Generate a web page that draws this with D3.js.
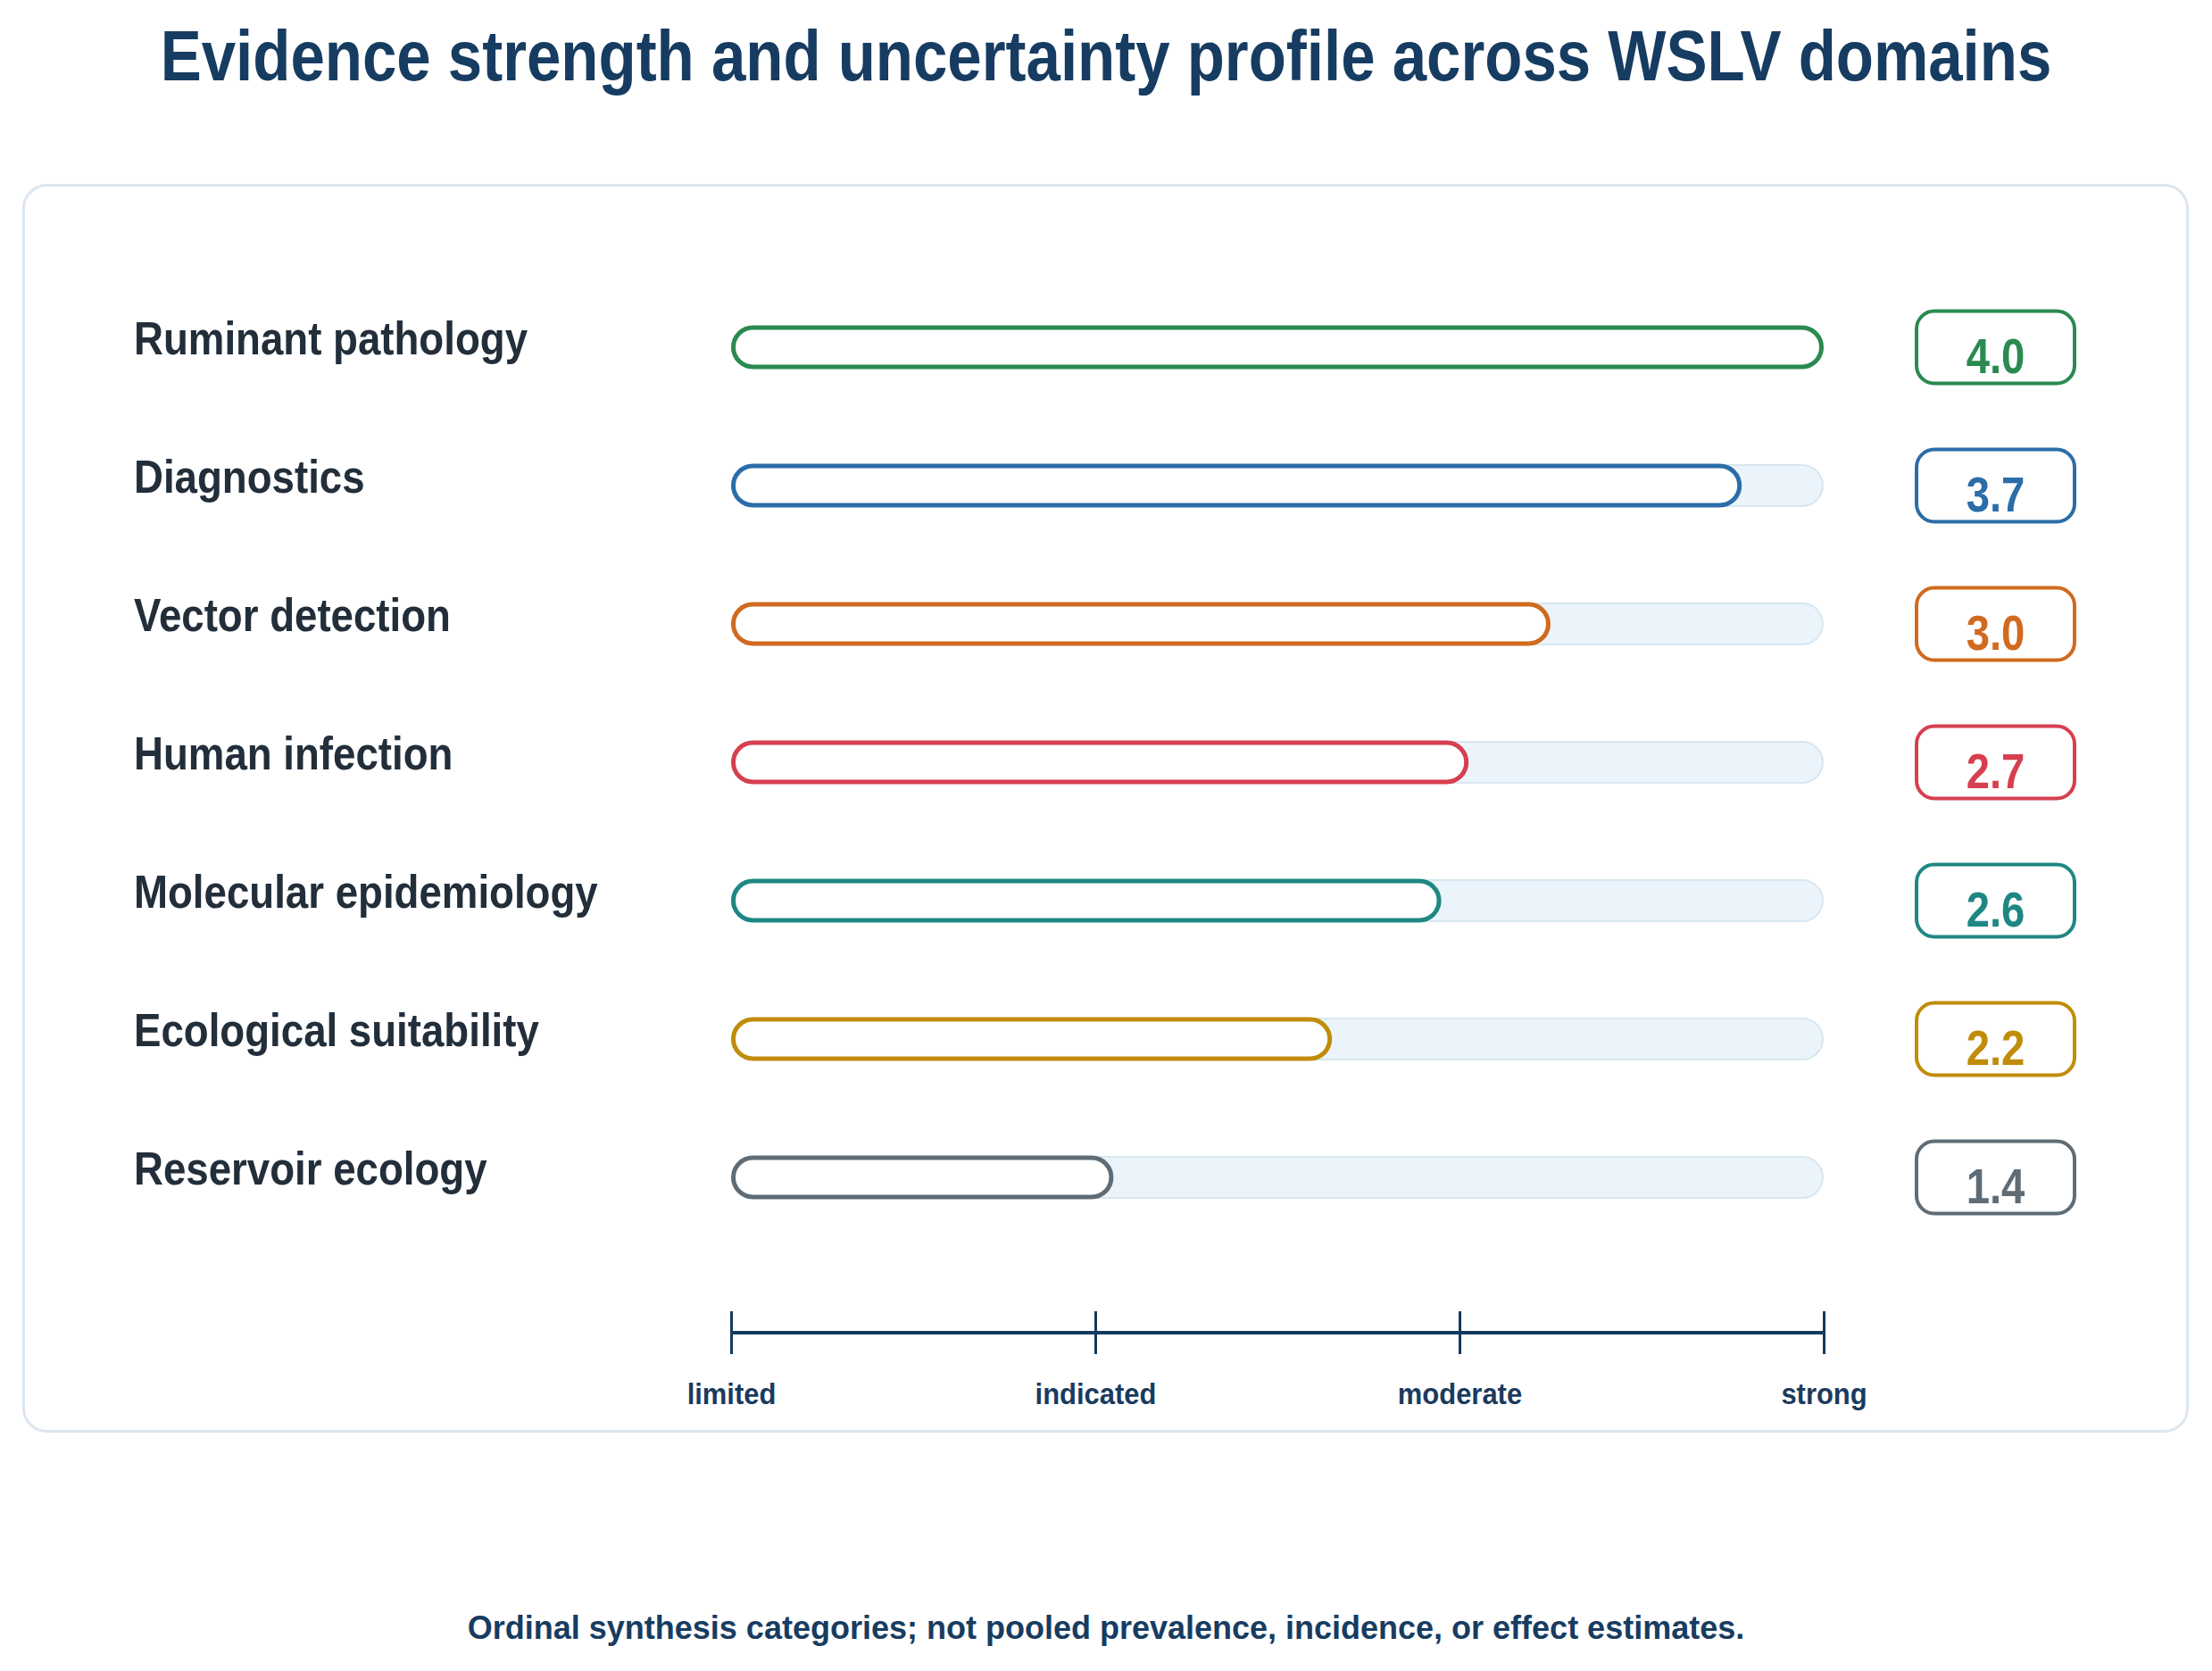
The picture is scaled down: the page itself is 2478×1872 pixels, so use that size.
<!DOCTYPE html>
<html>
<head>
<meta charset="utf-8">
<script src="https://cdn.jsdelivr.net/npm/d3@7"></script>
<style>
  html, body { margin: 0; padding: 0; background: #ffffff; }
  svg { display: block; font-family: "Liberation Sans", Arial, sans-serif; }
</style>
</head>
<body>
<svg id="chart"></svg>
<script>
// evidence profile values, one per domain
const domains = ["Ruminant pathology", "Diagnostics", "Vector detection", "Human infection",
  "Molecular epidemiology", "Ecological suitability", "Reservoir ecology"];
const scores = [4.0, 3.7, 3.0, 2.7, 2.6, 2.2, 1.4];
const colours = ["#2a8a50", "#2b6da8", "#d06a1f", "#d63f4f", "#1f8783", "#c08c0a", "#5f6c76"];
const tiers = ["limited", "indicated", "moderate", "strong"];

var width = 2478;
var height = 1872;

var svg = d3.select("#chart")
  .attr("width", width)
  .attr("height", height);

const data = domains.map((d, i) => ({domain: d, score: scores[i], colour: colours[i]}));

// panel card
svg.append("rect")
  .attr("x", 26.5)
  .attr("y", 207.5)
  .attr("width", 2424)
  .attr("height", 1396)
  .attr("rx", 26)
  .style("fill", "#ffffff")
  .style("stroke", "#dce6ef")
  .style("stroke-width", 3);

// the reference type is a tall, slightly condensed bold sans
svg.append("text")
  .attr("transform", `translate(${width / 2},90) scale(0.8625,1)`)
  .style("text-anchor", "middle")
  .style("font-size", "80px")
  .style("font-weight", "bold")
  .style("fill", "#173c61")
  .text("Evidence strength and uncertainty profile across WSLV domains");

let x = d3.scaleLinear()
  .domain([0, 4])
  .range([819, 2043]);

let y = d3.scalePoint()
  .domain(domains)
  .range([389, 1319]);

let tierScale = d3.scalePoint()
  .domain(tiers)
  .range([819, 2043]);

const barH = 44;
const sw = 5;

// background tracks
svg.selectAll("rect.track")
  .data(data)
  .enter()
  .append("rect")
  .attr("class", "track")
  .attr("x", x(0) + 1)
  .attr("y", d => y(d.domain) - 23)
  .attr("width", x(4) - x(0) - 2)
  .attr("height", 46)
  .attr("rx", 23)
  .style("fill", "#ebf4fa")
  .style("stroke", "#d8e7f1")
  .style("stroke-width", 2);

svg.selectAll("rect.bar")
  .data(data)
  .enter()
  .append("rect")
  .attr("class", "bar")
  .attr("x", x(0) + sw / 2)
  .attr("y", d => y(d.domain) - barH / 2)
  .attr("width", d => x(d.score) - x(0) - sw)
  .attr("height", barH)
  .attr("rx", barH / 2)
  .style("fill", "#ffffff")
  .style("stroke", d => d.colour)
  .style("stroke-width", sw);

svg.selectAll("text.label")
  .data(data)
  .enter()
  .append("text")
  .attr("class", "label")
  .attr("transform", d => `translate(150,${y(d.domain) + 8}) scale(0.895,1)`)
  .style("font-size", "51px")
  .style("font-weight", "bold")
  .style("fill", "#222e3a")
  .text(d => d.domain);

// score badges
const badgeX = 2147, badgeW = 177, badgeH = 81;

svg.selectAll("rect.badge")
  .data(data)
  .enter()
  .append("rect")
  .attr("class", "badge")
  .attr("x", badgeX)
  .attr("y", d => y(d.domain) - badgeH / 2)
  .attr("width", badgeW)
  .attr("height", badgeH)
  .attr("rx", 20)
  .style("fill", "#ffffff")
  .style("stroke", d => d.colour)
  .style("stroke-width", 4);

svg.selectAll("text.valueLabel")
  .data(data)
  .enter()
  .append("text")
  .attr("class", "valueLabel")
  .attr("transform", d => `translate(${badgeX + badgeW / 2},${y(d.domain) + 29}) scale(0.86,1)`)
  .style("text-anchor", "middle")
  .style("font-size", "55px")
  .style("font-weight", "bold")
  .style("fill", d => d.colour)
  .text(d => d3.format(".1f")(d.score));

// ordinal axis
let axis = svg.append("g")
  .attr("class", "axis")
  .attr("transform", "translate(0,1493)")
  .call(d3.axisBottom(tierScale).tickSize(24).tickPadding(0));

axis.select(".domain")
  .attr("d", `M${tierScale.range()[0]},0H${tierScale.range()[1]}`)
  .style("stroke", "#163a5f")
  .style("stroke-width", 4);

axis.selectAll(".tick line")
  .attr("y1", -24)
  .attr("y2", 24)
  .style("stroke", "#163a5f")
  .style("stroke-width", 3);

axis.selectAll(".tick text")
  .attr("y", null)
  .attr("dy", 0)
  .attr("transform", "translate(0,80) scale(0.91,1)")
  .style("font-family", "'Liberation Sans', Arial, sans-serif")
  .style("font-size", "34px")
  .style("font-weight", "bold")
  .style("fill", "#1a3b5e");

svg.append("text")
  .attr("x", width / 2)
  .attr("y", 1836)
  .style("text-anchor", "middle")
  .style("font-size", "36px")
  .style("font-weight", "bold")
  .style("fill", "#173c61")
  .text("Ordinal synthesis categories; not pooled prevalence, incidence, or effect estimates.");
</script>
</body>
</html>
